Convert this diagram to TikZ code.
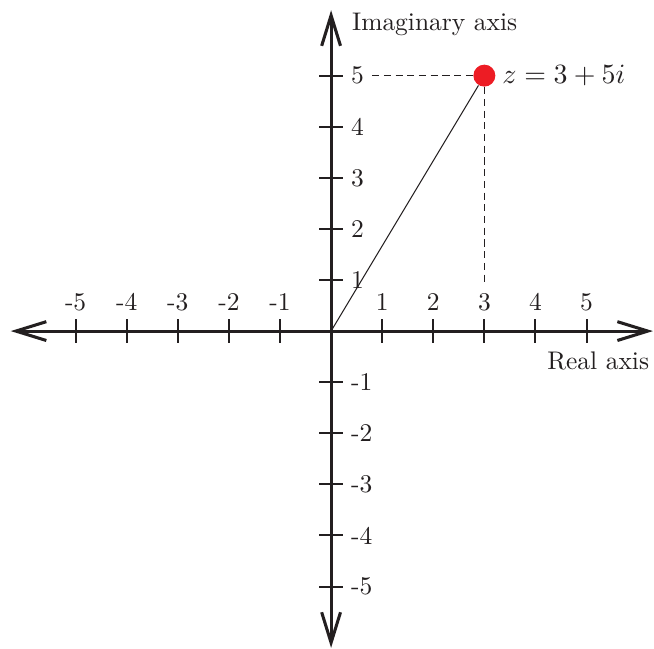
\documentclass[tikz,border=0pt]{standalone}
\usepackage{tikz}
\usetikzlibrary{arrows.meta,positioning}
\definecolor{pointred}{RGB}{237,28,36}
\definecolor{inkgrey}{RGB}{35,31,32}

\begin{document}
\begin{tikzpicture}[x=0.705cm, y=0.705cm, color=inkgrey,
    axis/.style={very thick, {Straight Barb[length=4.2mm, width=2.6mm]}-{Straight Barb[length=4.2mm, width=2.6mm]}},
    ticklab/.style={fill=white, inner sep=3pt}]
    \useasboundingbox (-6.48,-6.22) rectangle (6.32,6.48);

    % Axis end points
    \coordinate (xmin) at (-6.27,0);
    \coordinate (xmax) at (6.30,0);
    \coordinate (ymin) at (0,-6.20);
    \coordinate (ymax) at (0,6.28);
    \coordinate (O) at (0,0);

    % Axes
    \draw[axis] (xmin) -- (xmax);
    \draw[axis] (ymin) -- (ymax);

    % Tick marks and labels
    \foreach \i in {-5,...,-1,1,2,...,5} {
        \draw[thick] (\i,0.235) -- (\i,-0.235);
        \node[above, ticklab] (xlab\i) at (\i,0.235) {\i};
        \draw[thick] (-0.235,\i) -- (0.235,\i);
        \node[right, ticklab] (ylab\i) at (0.235,\i) {\i};
    }

    % Axis names
    \node[right] (imlab) at (0.235,6.0) {Imaginary axis};
    \node[anchor=north east] (relab) at (6.4,-0.23) {Real axis};

    % The point z
    \node[circle, fill=pointred, inner sep=0pt, minimum size=0.303cm] (z) at (3,5) {};
    \node[right=-1pt of z, font=\fontsize{11.2}{13}\selectfont] (zlab) {$z=3+5i$};

    % Projections onto the axes
    \draw[dash pattern=on 2.8pt off 1.8pt] (ylab5.east) -- (z);
    \draw[dash pattern=on 2.8pt off 1.8pt] (z) -- (xlab3.north);

    % Line from the origin
    \draw (O) -- (z);
\end{tikzpicture}
\end{document}
